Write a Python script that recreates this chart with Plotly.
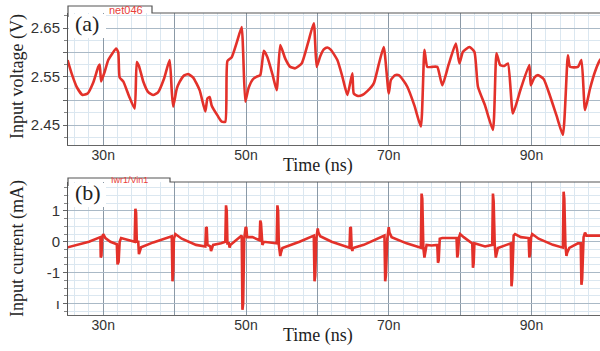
import plotly.graph_objects as go

W, H = 600, 351
def px(x): return x / W
def py(y): return 1 - y / H

# ---------------- data ----------------
time_v = [25.0, 25.6, 26.3, 27.1, 27.8, 28.6, 29.3, 29.5, 29.7, 30.2, 30.7, 31.3, 31.8, 32.1, 32.3,
          32.8, 33.6, 34.4, 34.7, 35.0, 35.6, 36.3, 37.0, 37.7, 38.5, 39.3, 39.6, 39.8, 40.3, 40.7,
          41.3, 41.9, 42.6, 43.5, 44.3, 44.6, 44.9, 45.2, 46.0, 46.6, 47.1, 47.4, 48.0, 48.7, 49.4,
          49.6, 49.9, 50.35, 51.0, 51.5, 52.0, 52.5, 53.0, 53.7, 54.3, 54.8, 55.5, 56.2, 56.9, 57.8,
          58.7, 59.5, 59.9, 60.4, 60.9, 61.4, 61.9, 62.8, 63.5, 64.2, 64.9, 65.1, 65.7, 66.3, 67.0,
          67.9, 68.6, 69.3, 70.0, 70.3, 70.9, 71.4, 72.0, 72.6, 73.6, 74.5, 75.0, 75.4, 76.1, 76.8,
          77.5, 78.4, 79.4, 79.9, 80.4, 81.3, 82.0, 82.5, 83.5, 84.6, 85.1, 85.6, 86.2, 86.7, 87.4,
          88.5, 89.7, 89.9, 90.4, 90.9, 91.7, 92.6, 93.5, 94.4, 95.1, 95.4, 96.5, 97.0, 97.5, 98.2,
          98.9, 99.6, 100.0]
voltage = [2.584, 2.555, 2.528, 2.512, 2.515, 2.538, 2.570, 2.575, 2.540, 2.560, 2.584, 2.598, 2.608, 2.600, 2.548,
           2.540, 2.510, 2.484, 2.580, 2.572, 2.540, 2.518, 2.512, 2.518, 2.545, 2.584, 2.520, 2.488, 2.525, 2.539,
           2.552, 2.555, 2.548, 2.522, 2.478, 2.505, 2.508, 2.490, 2.470, 2.457, 2.457, 2.582, 2.590, 2.620, 2.652,
           2.600, 2.498, 2.526, 2.545, 2.550, 2.553, 2.603, 2.590, 2.555, 2.522, 2.615, 2.587, 2.570, 2.567, 2.577,
           2.620, 2.660, 2.570, 2.592, 2.606, 2.610, 2.605, 2.584, 2.550, 2.512, 2.557, 2.515, 2.510, 2.512, 2.520,
           2.536, 2.575, 2.611, 2.515, 2.543, 2.553, 2.553, 2.543, 2.529, 2.490, 2.447, 2.605, 2.570, 2.570, 2.570,
           2.532, 2.575, 2.618, 2.577, 2.601, 2.611, 2.601, 2.529, 2.490, 2.440, 2.598, 2.574, 2.572, 2.577, 2.474,
           2.525, 2.574, 2.532, 2.548, 2.553, 2.545, 2.510, 2.470, 2.430, 2.594, 2.570, 2.570, 2.584, 2.481, 2.525,
           2.560, 2.584, 2.590]

time_i = [25.0, 26.5, 28.0, 29.6, 29.65, 29.75, 29.85, 30.0, 30.3, 31.0, 31.9, 32.0, 32.15, 32.3, 32.5,
          33.5, 34.4, 34.5, 34.6, 34.7, 34.9, 35.0, 35.15, 35.3, 37.0, 39.6, 39.7, 39.8, 39.9, 40.1,
          41.0, 43.0, 44.3, 44.4, 44.5, 44.6, 45.0, 45.1, 45.2, 45.4, 46.5, 47.1, 47.2, 47.3, 47.4,
          47.6, 47.7, 47.8, 49.4, 49.5, 49.6, 49.75, 49.95, 50.05, 50.15, 50.9, 51.9, 52.0, 52.1, 52.2,
          52.3, 52.5, 54.3, 54.4, 54.5, 54.6, 54.8, 54.9, 55.1, 57.5, 59.5, 59.6, 59.7, 59.85, 60.05,
          60.15, 60.4, 62.0, 64.5, 64.6, 64.7, 64.8, 64.9, 65.0, 66.5, 69.4, 69.5, 69.6, 69.8, 70.0,
          70.1, 70.4, 72.5, 74.5, 74.6, 74.7, 74.85, 75.0, 75.1, 75.3, 76.0, 76.8, 76.9, 77.0, 77.15,
          77.5, 79.5, 79.6, 79.7, 79.85, 80.0, 80.5, 81.7, 81.8, 81.9, 82.0, 83.5, 84.5, 84.6, 84.7,
          84.85, 85.0, 85.1, 85.3, 86.5, 87.1, 87.2, 87.3, 87.5, 87.7, 88.5, 89.6, 89.7, 89.8, 89.95,
          90.1, 91.0, 93.0, 94.4, 94.5, 94.6, 94.75, 94.9, 95.0, 95.3, 96.5, 96.9, 97.0, 97.1, 97.3,
          97.5, 97.7, 99.7, 100.0]
current = [-0.18, -0.10, 0.00, 0.15, -0.51, -0.45, 0.15, 0.25, 0.12, 0.00, -0.08, -0.73, -0.65, 0.00, 0.12,
           0.05, 0.00, 1.07, 0.95, 0.00, 0.00, -0.40, -0.30, -0.18, -0.02, 0.18, -1.28, -1.00, 0.10, 0.25,
           0.10, -0.10, -0.15, 0.47, 0.45, -0.10, -0.15, -0.30, -0.25, -0.10, -0.05, 0.00, 1.18, 1.00, -0.05,
           -0.05, -0.19, -0.10, 0.20, -2.20, -2.00, 0.10, 0.47, 0.45, 0.15, 0.15, 0.05, 0.69, 0.60, 0.00,
           -0.10, 0.00, -0.05, 1.18, 1.00, -0.10, -0.46, -0.35, -0.20, 0.00, 0.20, -1.28, -1.10, 0.10, 0.43,
           0.30, 0.18, 0.00, -0.19, 0.47, 0.45, -0.15, -0.30, -0.20, -0.10, 0.20, -1.28, -1.10, 0.10, 0.47,
           0.30, 0.15, -0.05, -0.19, 1.56, 1.40, -0.20, -0.51, -0.40, -0.10, -0.12, -0.10, -0.68, -0.60, 0.10,
           0.12, 0.12, -0.51, -0.40, 0.15, 0.25, 0.15, -0.05, -0.84, -0.70, -0.05, -0.15, -0.10, 1.56, 1.30,
           -0.10, -0.51, -0.40, -0.20, -0.10, -0.05, -1.44, -1.20, 0.20, 0.25, 0.15, 0.12, -0.51, -0.40, 0.15,
           0.25, 0.10, -0.10, -0.19, 1.62, 1.40, -0.10, -0.46, -0.35, -0.20, -0.05, -0.05, -1.39, -1.20, 0.15,
           0.30, 0.20, 0.20, 0.18]

x_tickvals = [30, 40, 50, 60, 70, 80, 90]
x_ticktext = ['30n', '', '50n', '', '70n', '', '90n']
v_tickvals = [2.45, 2.50, 2.55, 2.60, 2.65]
v_ticktext = ['2.45', '', '2.55', '', '2.65']
i_tickvals = [-2, -1, 0, 1]
i_ticktext = ['ı', '-1', '0', '1']

LINE = '#e3312a'
MAJ_X = '#8b99a6'
MAJ_Y = '#aab9c6'
MINOR = '#dbe7f0'
SANS = 'Liberation Sans, Arial, sans-serif'
SERIF = 'Liberation Serif, Times New Roman, serif'

fig = go.Figure()
fig.add_trace(go.Scatter(x=time_v, y=voltage, mode='lines',
                         line=dict(color=LINE, width=2.6, shape='spline', smoothing=0.5),
                         xaxis='x', yaxis='y', showlegend=False))
fig.add_trace(go.Scatter(x=time_i, y=current, mode='lines', line=dict(color=LINE, width=2.6),
                         xaxis='x2', yaxis='y2', showlegend=False))

xcommon = dict(range=[25.06, 99.6], tickvals=x_tickvals, ticktext=x_ticktext,
               showgrid=True, gridcolor=MAJ_X, gridwidth=1, zeroline=False,
               minor=dict(dtick=2, tick0=0, showgrid=True, gridcolor=MINOR, gridwidth=1),
               showline=True, linecolor='#666666', linewidth=1, ticks='',
               ticklabelstandoff=-3,
               tickfont=dict(family=SANS, size=14, color='#333333'))
ycommon = dict(showgrid=True, gridcolor=MAJ_Y, gridwidth=1, zeroline=False,
               showline=True, linecolor='#555555', linewidth=1,
               ticks='outside', ticklen=4, tickcolor='#666666',
               tickfont=dict(family=SANS, size=15, color='#333333'))

fig.update_layout(
    width=W, height=H, margin=dict(l=0, r=0, t=0, b=0),
    paper_bgcolor='white', plot_bgcolor='white',
    xaxis=dict(domain=[px(68), 1], anchor='y', **xcommon),
    yaxis=dict(domain=[py(145), py(13)], anchor='x', range=[2.409, 2.681],
               tickvals=v_tickvals, ticktext=v_ticktext,
               minor=dict(dtick=0.025, tick0=2.4, showgrid=True, gridcolor=MINOR,
                          ticks='outside', ticklen=3, tickcolor='#888888'),
               **ycommon),
    xaxis2=dict(domain=[px(68), 1], anchor='y2', **xcommon),
    yaxis2=dict(domain=[py(315), py(182)], anchor='x2', range=[-2.37, 1.935],
                tickvals=i_tickvals, ticktext=i_ticktext,
                minor=dict(dtick=0.25, tick0=0, showgrid=True, gridcolor=MINOR,
                           ticks='outside', ticklen=3, tickcolor='#888888'),
                **ycommon),
)

shapes = []
# tab frames
for (ytab, ytop, xtab) in [(6, 13, 152), (178, 182, 170)]:
    path = (f"M {px(68)},{py(ytop+4)} L {px(68)},{py(ytab)} L {px(xtab)},{py(ytab)} "
            f"L {px(xtab)},{py(ytop)} L {px(600)},{py(ytop)}")
    shapes.append(dict(type='path', path=path, xref='paper', yref='paper',
                       line=dict(color='#555555', width=1.2), layer='above'))
# white label boxes
for (y0, y1, x1) in [(14, 38, 106), (183, 207, 106)]:
    shapes.append(dict(type='rect', xref='paper', yref='paper', x0=px(69), x1=px(x1),
                       y0=py(y1), y1=py(y0), fillcolor='white', line=dict(width=0), layer='above'))
fig.update_layout(shapes=shapes)

def note(text, x, y, size, family, color='#222222', xanchor='center', angle=0):
    return dict(text=text, x=px(x), y=py(y), xref='paper', yref='paper', showarrow=False,
                xanchor=xanchor, yanchor='middle', textangle=angle,
                font=dict(family=family, size=size, color=color))

ann = [
    note('(a)', 87, 24, 22, SERIF),
    note('(b)', 88, 192, 22, SERIF),
    note('net046', 107, 10, 11, SANS, color='#e8403a', xanchor='left'),
    note('Iwr1/Vin1', 109, 180, 9, SANS, color='#e8403a', xanchor='left'),
    note('Input voltage (V)', 17, 77, 18, SERIF, angle=-90),
    note('Input current (mA)', 17, 249, 18, SERIF, angle=-90),
    note('Time (ns)', 318, 165, 18, SERIF),
    note('Time (ns)', 318, 335, 18, SERIF),
]
fig.update_layout(annotations=ann)

fig.write_html("out.html", config={'displayModeBar': False},
               post_script="document.body.style.margin='0px';")
